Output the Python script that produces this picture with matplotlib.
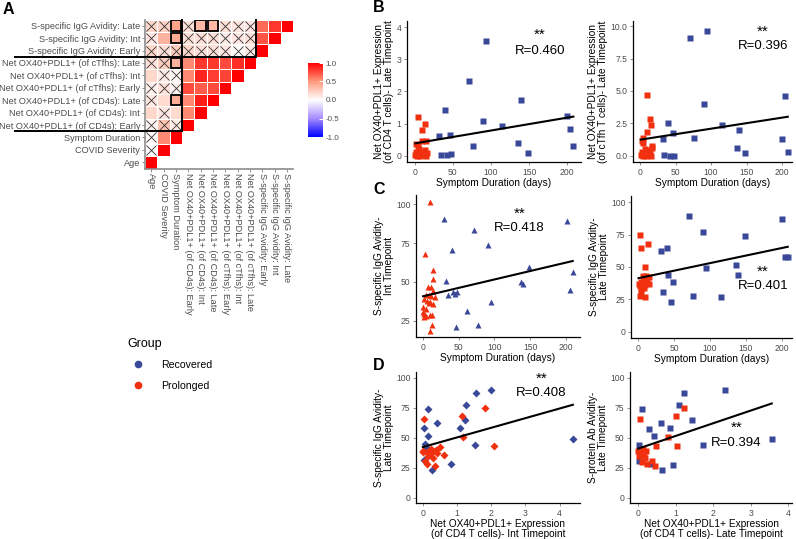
import numpy as np
import matplotlib
matplotlib.use("Agg")
import matplotlib.pyplot as plt
from matplotlib.colors import LinearSegmentedColormap
from matplotlib.patches import Rectangle
from matplotlib.lines import Line2D

plt.rcParams['font.family'] = ['Liberation Sans', 'DejaVu Sans']

# ---------------- data ----------------
# correlation matrix (lower triangle, row 0 = Age at the bottom)
var_labels = ['Age', 'COVID Severity', 'Symptom Duration',
              'Net OX40+PDL1+ (of CD4s): Early', 'Net OX40+PDL1+ (of CD4s): Int',
              'Net OX40+PDL1+ (of CD4s): Late', 'Net OX40+PDL1+ (of cTfhs): Early',
              'Net OX40+PDL1+ (of cTfhs): Int', 'Net OX40+PDL1+ (of cTfhs): Late',
              'S-specific IgG Avidity: Early', 'S-specific IgG Avidity: Int',
              'S-specific IgG Avidity: Late']
corr_rows = [
    [1],
    [0.02, 1],
    [0.03, 0.55, 1],
    [0.05, 0.30, 0.10, 1],
    [0.20, 0.12, 0.18, 0.55, 1],
    [0.12, 0.18, 0.40, 0.55, 0.90, 1],
    [0.08, 0.15, 0.06, 0.75, 0.70, 0.75, 1],
    [0.20, 0.10, 0.05, 0.55, 0.88, 0.80, 0.78, 1],
    [0.15, 0.25, 0.38, 0.55, 0.82, 0.82, 0.75, 0.85, 1],
    [0.20, 0.15, 0.25, 0.20, 0.15, 0.15, 0.12, 0.02, 0.10, 1],
    [0.12, 0.38, 0.42, 0.15, 0.15, 0.15, 0.10, 0.12, 0.15, 0.72, 1],
    [0.20, 0.22, 0.45, 0.15, 0.35, 0.35, 0.15, 0.12, 0.12, 0.65, 0.82, 1],
]
# non-significant cells (row, col)
insig_cells = [(1, 0), (2, 0), (3, 0), (3, 1), (3, 2), (4, 1), (5, 0),
               (6, 0), (6, 1), (6, 2), (7, 1), (7, 2), (8, 0), (8, 1),
               (9, 0), (9, 1), (9, 2), (9, 3), (9, 4), (9, 5), (9, 6), (9, 7), (9, 8),
               (10, 0), (10, 3), (10, 4), (10, 5), (10, 6), (10, 7), (10, 8),
               (11, 0), (11, 1), (11, 3), (11, 6), (11, 7), (11, 8)]
boxed_cells = [(11, 2), (10, 2), (8, 2), (5, 2), (11, 4), (11, 5)]

# scatter panels
rec_days = [32, 34, 40, 42, 46, 48, 71, 76, 90, 94, 115, 136, 139, 148, 200, 204, 208]

b1_rec_y = [0.60, 0.01, 1.43, 0.02, 0.63, 0.05, 2.33, 0.31, 1.09, 3.58, 0.91, 0.40, 1.72, 0.08, 1.23, 0.84, 0.29]
b1_pro_x = [3.9, 9.6, 14, 2.2, 4.4, 9.6, 15.3, 14, 6.6, 11.8, 16.2, 0.9, 3, 7.4, 10.5, 15.3, 5.3, 1.3]
b1_pro_y = [1.21, 0.80, 1.0, 0.36, 0.30, 0.44, 0.47, 0.18, 0.10, 0.05, 0.07, 0.02, 0, 0, 0.01, 0, 0.2, 0.1]

b2_rec_y = [1.26, 0.05, 2.53, 0.00, 1.73, 0.00, 9.12, 1.39, 4.02, 9.64, 2.35, 0.62, 1.96, 0.23, 1.26, 4.59, 0.28]
b2_pro_x = [10.3, 14, 15.5, 10.3, 4.7, 2.3, 3.7, 16.4, 16.4, 7, 9.4, 14, 1, 4.7, 8.4, 12.2, 16, 2.3]
b2_pro_y = [4.66, 2.84, 2.37, 1.80, 1.34, 1.16, 0.95, 0.77, 0.57, 0.52, 0.39, 0.18, 0.05, 0, 0, 0.05, 0, 0.26]

c1_rec_x = [29.5, 70.7, 90.4, 39.8, 201.4, 149, 31.9, 137.2, 140, 209.8, 206, 94.6, 34.2, 42.2, 45, 47.8, 61.8, 76.3, 45.9]
c1_rec_y = [90.8, 83.7, 73.9, 70.6, 89.3, 59.7, 50.9, 49.9, 48.6, 56.3, 45.1, 36.8, 41.7, 43.4, 41.9, 43.2, 31.4, 22, 21.1]
c1_pro_x = [10.3, 3.3, 13.6, 13.6, 7, 10.8, 14, 4.2, 8, 11.7, 16.4, 1.4, 6.1, 10.3, 14.5, 0, 3.7, 8.4,
            0.5, 1.4, 4.7, 9.4, 13.1, 1.4, 13.1, 9.4]
c1_pro_y = [101.5, 68.3, 57.8, 52, 46.4, 46.4, 44.3, 41.5, 41.5, 40.9, 40.4, 38.7, 37.9, 37.2, 35.7, 33.6, 32.3, 36.1,
            30.8, 29.3, 28, 28.9, 28.9, 27.1, 22.2, 18.4]

c2_rec_y = [62.3, 30.5, 64.9, 43.9, 22.7, 38.0, 89.4, 27.9, 77.3, 49.4, 26.9, 51.4, 43.7, 73.9, 87.3, 57.6, 57.6]
c2_pro_x = [3.2, 3.7, 13.9, 9.7, 6, 10.6, 14.8, 0.5, 3.7, 7.9, 12.5, 15.3, 3.2, 9.3, 4.6, 3.7, 1.9, 9.7, 7.4]
c2_pro_y = [74.9, 65.1, 67.7, 50.1, 42.9, 42.9, 42.4, 37.2, 38.5, 39.8, 39.8, 37.2, 35.1, 36.4, 32.6, 29.5, 27.4, 26.6, 34.1]

d1_rec_x = [1.99, 1.55, 1.25, 0.15, 0.40, 1.22, 1.10, 0.03, 0.15, 1.52, 4.39, 0.07, 0.08, 0.04, 0.2, 0.81, 0.27]
d1_rec_y = [89.7, 87.4, 77.4, 74, 62.3, 65.1, 57.8, 57.8, 51.7, 44.1, 49.2, 45, 42.2, 31.6, 38.3, 28.2, 22.9]
d1_pro_x = [0.02, 1.14, 1.82, 1.19, 2.09, 0.01, 0.12, 0.23, 0.31, 0.41, 0.49, 0.61, 0.15, 0.06, 0.13, 0.35, 0.24, 0.0, 0.30, 0.39]
d1_pro_y = [65.6, 67.9, 75.1, 50.3, 43, 38.5, 38.5, 40.8, 39.1, 37.2, 42.7, 35.8, 34.4, 30.2, 27.9, 26.5, 36.9, 39.1, 33, 40]

d2_rec_x = [2.31, 1.23, 1.08, 0.10, 1.42, 0.60, 0.29, 0.84, 0.42, 1.72, 3.56, 0.03, 0.06, 0.02, 0.33, 0.92, 0.64]
d2_rec_y = [89.7, 87.4, 77.4, 74, 65.1, 62.3, 57.5, 57.8, 51.7, 44.1, 49.2, 44.1, 38.5, 31, 28.2, 27.4, 22.9]
d2_pro_x = [0.04, 1.0, 1.21, 0.8, 1.02, 0.48, 0.04, 0.12, 0.20, 0.06, 0.15, 0.02, 0.09, 0.23, 0.36, 0.44, 0.0, 0.17]
d2_pro_y = [65.4, 67.9, 75.1, 50.8, 43, 43.3, 39.1, 40.8, 39.1, 36.6, 35.8, 34.6, 29.6, 28.2, 30.7, 26.8, 39.1, 33]

REC = '#3A4899'
PRO = '#F0300F'
GREY = '#4D4D4D'

W, H = 796, 539
fig = plt.figure(figsize=(W / 100, H / 100), dpi=100)


def px_axes(x0, y0, x1, y1):
    # axes placed by pixel box (top-left origin)
    return fig.add_axes([x0 / W, 1 - y1 / H, (x1 - x0) / W, (y1 - y0) / H])


# ---------------- A: correlation heatmap ----------------
n = len(var_labels)
mat = np.full((n, n), np.nan)
for i, row in enumerate(corr_rows):
    mat[i, :len(row)] = row
cmap = LinearSegmentedColormap.from_list(
    'bwr_gg', [(0, '#0000FF'), (0.25, '#A68CFF'), (0.5, '#FFFFFF'), (0.75, '#FF9A7E'), (1, '#FF0000')])

axA = px_axes(145, 19.5, 293, 168.5)
mesh = axA.pcolormesh(np.arange(n + 1) - 0.5, np.arange(n + 1) - 0.5, np.ma.masked_invalid(mat),
                      cmap=cmap, vmin=-1, vmax=1, edgecolors='white', linewidth=0.5)
ix = [c[1] for c in insig_cells]
iy = [c[0] for c in insig_cells]
axA.scatter(ix, iy, marker='x', s=52, c='#333333', linewidths=0.6, zorder=3)
for (r, c) in boxed_cells:
    axA.add_patch(Rectangle((c - 0.42, r - 0.42), 0.84, 0.84, fill=False, ec='black', lw=1.3, zorder=4))

# group separators
xl = -0.5 - 130 / 12.33
for xs, ys in [([xl, 8.5], [8.5, 8.5]), ([8.5, 8.5], [8.5, 11.5]),
               ([xl, 2.5], [2.5, 2.5]), ([2.5, 2.5], [2.5, 11.5])]:
    axA.plot(xs, ys, color='black', lw=1.4, clip_on=False, zorder=5)

axA.set_xlim(-0.5, n - 0.5)
axA.set_ylim(-0.5, n - 0.5)
axA.set_xticks(range(n))
axA.set_yticks(range(n))
axA.set_xticklabels(var_labels, rotation=270, ha='center', va='top', fontsize=6.6, color=GREY)
axA.set_yticklabels(var_labels, fontsize=6.6, color=GREY)
axA.tick_params(length=2, width=0.6, color='#7F7F7F', pad=1.5)
for s in ['top', 'right']:
    axA.spines[s].set_visible(False)
for s in ['left', 'bottom']:
    axA.spines[s].set_color('#8C8C8C')
    axA.spines[s].set_linewidth(1.2)

cax = px_axes(308, 63, 323, 137)
cb = fig.colorbar(mesh, cax=cax, ticks=[-1, -0.5, 0, 0.5, 1])
cb.outline.set_visible(False)
cb.ax.set_yticklabels(['-1.0', '-0.5', '0.0', '0.5', '1.0'])
cax.tick_params(labelsize=5.8, labelcolor=GREY, length=3, color='white', direction='in', pad=2)

fig.legend(handles=[Line2D([], [], marker='o', ls='', color=REC, ms=4.5),
                    Line2D([], [], marker='o', ls='', color=PRO, ms=4.5)],
           labels=['Recovered', 'Prolonged'], title='Group', loc='upper left',
           bbox_to_anchor=(118 / W, 1 - 328 / H), frameon=False, fontsize=7.6,
           title_fontsize=9, alignment='left', handletextpad=1.2, labelspacing=1.0)

# ---------------- B, C, D: scatter panels ----------------
def scatter_panel(box, rx, ry, px, py, marker, ms, xlim, ylim, yticks, xticks,
                  xlabel, ylabel, stars_xy, r_text, yfmt=None):
    ax = px_axes(*box)
    ax.plot(rx, ry, ls='', marker=marker, ms=ms, color=REC, mec='none')
    ax.plot(px, py, ls='', marker=marker, ms=ms, color=PRO, mec='none')
    allx = np.array(list(rx) + list(px), dtype=float)
    ally = np.array(list(ry) + list(py), dtype=float)
    k, b = np.polyfit(allx, ally, 1)
    xx = np.array([allx.min(), allx.max()])
    ax.plot(xx, k * xx + b, color='black', lw=1.5)
    ax.set_xlim(xlim)
    ax.set_ylim(ylim)
    ax.set_xticks(xticks)
    ax.set_yticks(yticks)
    if yfmt:
        ax.set_yticklabels([yfmt.format(v) for v in yticks])
    ax.tick_params(labelsize=6.2, labelcolor=GREY, color='#7F7F7F', length=2.5, width=0.6, pad=1.5)
    for s in ['top', 'right']:
        ax.spines[s].set_visible(False)
    for s in ['left', 'bottom']:
        ax.spines[s].set_linewidth(0.9)
    ax.set_xlabel(xlabel, fontsize=7.3, labelpad=1.0, linespacing=1.0)
    ax.set_ylabel(ylabel, fontsize=7.3, labelpad=1.5, linespacing=1.0)
    sx, sy, ry_ = stars_xy
    ax.text(sx, sy, '**', transform=ax.transAxes, ha='center', va='center', fontsize=11)
    ax.text(sx, ry_, r_text, transform=ax.transAxes, ha='center', va='center', fontsize=9.5)
    return ax


sd = 'Symptom Duration (days)'
cd4_int = 'Net OX40+PDL1+ Expression\n(of CD4 T cells)- Int Timepoint'
cd4_late = 'Net OX40+PDL1+ Expression\n(of CD4 T cells)- Late Timepoint'

scatter_panel((407, 21, 581, 162), rec_days, b1_rec_y, b1_pro_x, b1_pro_y, 's', 3.9,
              (-10, 218), (-0.2, 4.2), [0, 1, 2, 3, 4], [0, 50, 100, 150, 200],
              sd, cd4_late, (0.764, 0.90, 0.79), 'R=0.460')
scatter_panel((633, 21, 792, 162), rec_days, b2_rec_y, b2_pro_x, b2_pro_y, 's', 3.9,
              (-10, 214), (-0.5, 10.4), [0, 2.5, 5, 7.5, 10], [0, 50, 100, 150, 200],
              sd, 'Net OX40+PDL1+ Expression\n(of cTfh T cells)- Late Timepoint',
              (0.816, 0.92, 0.82), 'R=0.396', yfmt='{:.1f}')
scatter_panel((416, 195, 580, 337), c1_rec_x, c1_rec_y, c1_pro_x, c1_pro_y, '^', 4.6,
              (-10, 220), (14.5, 106), [25, 50, 75, 100], [0, 50, 100, 150, 200],
              sd, 'S-specific IgG Avidity-\nInt Timepoint', (0.63, 0.87, 0.765), 'R=0.418')
scatter_panel((631, 196, 792, 338), rec_days, c2_rec_y, c2_pro_x, c2_pro_y, 's', 3.9,
              (-10, 214), (-5, 105), [0, 25, 50, 75, 100], [0, 50, 100, 150, 200],
              sd, 'S-specific IgG Avidity-\nLate Timepoint', (0.818, 0.465, 0.366), 'R=0.401')
scatter_panel((416, 372, 580, 503), d1_rec_x, d1_rec_y, d1_pro_x, d1_pro_y, 'D', 3.7,
              (-0.2, 4.6), (-4.5, 105), [0, 25, 50, 75, 100], [0, 1, 2, 3, 4],
              cd4_int, 'S-specific IgG Avidity-\nLate Timepoint', (0.766, 0.95, 0.842), 'R=0.408')
scatter_panel((630, 372, 792, 503), d2_rec_x, d2_rec_y, d2_pro_x, d2_pro_y, 's', 3.9,
              (-0.22, 4.1), (-4.5, 105), [0, 25, 50, 75, 100], [0, 1, 2, 3, 4],
              cd4_late, 'S-protein Ab Avidity-\nLate Timepoint', (0.658, 0.572, 0.456), 'R=0.394')

# panel letters
for letter, x, y in [('A', 8, 10), ('B', 379, 8), ('C', 379, 190), ('D', 379, 365)]:
    fig.text(x / W, 1 - y / H, letter, fontsize=11.5, fontweight='bold', ha='center', va='center')

fig.savefig('out.png', dpi=100)
